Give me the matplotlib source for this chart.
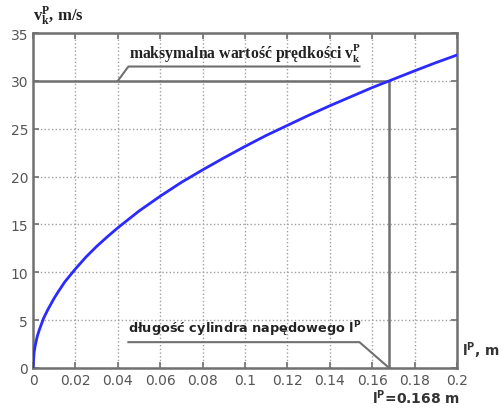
import numpy as np
import matplotlib.pyplot as plt

# velocity curve
length_m = [0, 0.0005, 0.001, 0.002, 0.003, 0.005, 0.007, 0.01, 0.012, 0.015, 0.02,
            0.025, 0.03, 0.035, 0.04, 0.05, 0.06, 0.07, 0.08, 0.09, 0.1, 0.11,
            0.12, 0.13, 0.14, 0.15, 0.16, 0.168, 0.18, 0.19, 0.2]
velocity = [0, 1.6, 2.3, 3.3, 4.0, 5.2, 6.1, 7.3, 8.0, 9.0, 10.35,
            11.6, 12.7, 13.7, 14.65, 16.4, 17.95, 19.4, 20.7, 21.95, 23.15, 24.3,
            25.35, 26.4, 27.4, 28.35, 29.3, 30.0, 31.05, 31.9, 32.7]

x_ticks = [0, 0.02, 0.04, 0.06, 0.08, 0.1, 0.12, 0.14, 0.16, 0.18, 0.2]
x_tick_labels = ["0", "0.02", "0.04", "0.06", "0.08", "0.1", "0.12", "0.14", "0.16", "0.18", "0.2"]
y_ticks = [0, 5, 10, 15, 20, 25, 30, 35]

l_max = 0.168
v_max = 30.0

grey = "#707070"

fig = plt.figure(figsize=(5.0, 4.1), dpi=100)
ax = fig.add_axes([0.066, 0.10, 0.848, 0.817])

ax.plot(length_m, velocity, color="#2a2aff", lw=2.0, zorder=5)

# reference lines for max velocity and cylinder length
ax.plot([0, l_max], [v_max, v_max], color=grey, lw=1.8, zorder=4)
ax.plot([l_max, l_max], [0, v_max], color=grey, lw=1.8, zorder=4)

# leader lines with underlines
ax.plot([0.04, 0.045, 0.154], [30, 31.5, 31.5], color=grey, lw=1.5, zorder=4)
ax.plot([0.045, 0.154, l_max], [2.7, 2.7, 0], color=grey, lw=1.5, zorder=4)

ax.text(0.0455, 31.8, r"maksymalna wartość prędkości $\mathregular{v_k^P}$",
        family="Liberation Serif", weight="bold", fontsize=11.3, color="#222222",
        va="bottom", ha="left")
ax.text(0.045, 3.1, r"długość cylindra napędowego $\mathregular{l^P}$",
        family="DejaVu Sans", weight="bold", fontsize=9.3, color="#222222",
        va="bottom", ha="left")

ax.set_xlim(0, 0.2)
ax.set_ylim(0, 35)
ax.set_xticks(x_ticks)
ax.set_xticklabels(x_tick_labels)
ax.set_yticks(y_ticks)
ax.tick_params(direction="in", colors=grey, labelcolor="#555555", labelsize=10,
               length=4, width=1.2, top=True, right=True)
ax.grid(True, linestyle=":", color="#a0a0a0", lw=1.0)
for s in ax.spines.values():
    s.set_color(grey)
    s.set_linewidth(1.8)

fig.text(0.066, 0.935, r"$\mathregular{v_k^P}$, m/s", family="Liberation Serif",
         weight="bold", fontsize=12, color="#222222", ha="left", va="bottom")
fig.text(0.925, 0.145, r"$\mathregular{l^P}$, m", family="DejaVu Sans",
         weight="bold", fontsize=10, color="#333333", ha="left", va="center")
fig.text(0.745, 0.03, r"$\mathregular{l^P}$=0.168 m", family="DejaVu Sans",
         weight="bold", fontsize=10, color="#333333", ha="left", va="center")

fig.savefig("out.png", dpi=100)
